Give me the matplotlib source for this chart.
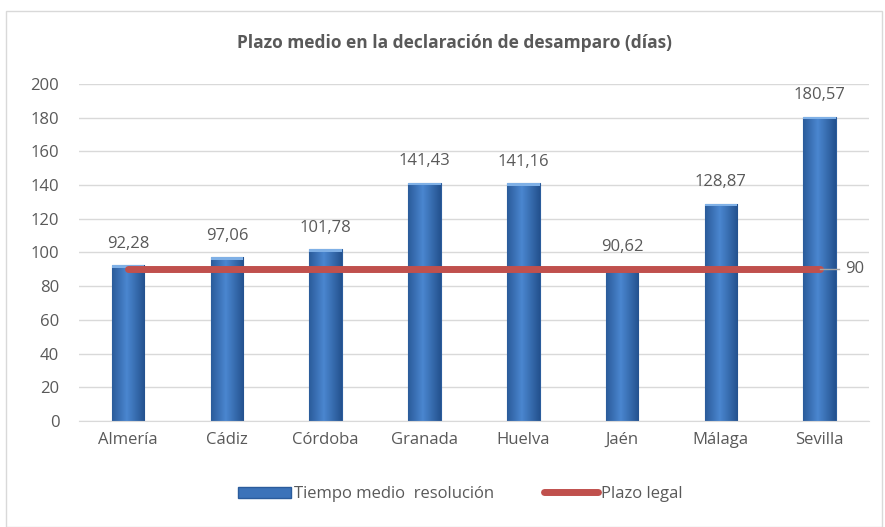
import numpy as np
import matplotlib.pyplot as plt
from matplotlib.patches import Rectangle
from matplotlib.lines import Line2D
from matplotlib.colors import LinearSegmentedColormap

# datos
provincias = ["Almería", "Cádiz", "Córdoba", "Granada", "Huelva", "Jaén", "Málaga", "Sevilla"]
tiempo_medio = [92.28, 97.06, 101.78, 141.43, 141.16, 90.62, 128.87, 180.57]
plazo_legal = [90, 90, 90, 90, 90, 90, 90, 90]

plt.rcParams['font.family'] = ['Open Sans', 'DejaVu Sans']
gris = "#595959"

fig = plt.figure(figsize=(8.85, 5.27), dpi=100)
ax = fig.add_axes([0.089, 0.201, 0.893, 0.640])

x = np.arange(len(provincias))
bars = ax.bar(x, tiempo_medio, width=0.33, color="#3C73B9", edgecolor="#2B5C9C",
              linewidth=0.8, zorder=2)

# degradado en las barras
grad = np.linspace(0, 1, 64)
grad = 1 - np.abs(grad - 0.45) * 1.6
grad = np.tile(grad, (2, 1))
cmap = LinearSegmentedColormap.from_list("azul", ["#24528F", "#4A86CF"])
for b in bars:
    x0, w, h = b.get_x(), b.get_width(), b.get_height()
    im = ax.imshow(grad, extent=[x0, x0 + w, 0, h], aspect="auto", cmap=cmap,
                   zorder=2.1, origin="lower")
    im.set_clip_path(b)
    ax.add_patch(Rectangle((x0, h - 1.5), w, 1.5, color="#7FB0E6", zorder=2.2, lw=0))

for xi, v in zip(x, tiempo_medio):
    ax.text(xi, v + 8, f"{v:.2f}".replace(".", ","), ha="center", va="bottom",
            fontsize=12, color=gris)

# linea plazo legal
ax.plot(x, plazo_legal, color="#C0504D", linewidth=5, solid_capstyle="round", zorder=3)
ax.plot([x[-1], x[-1] + 0.2], [90, 90], color="#A6A6A6", linewidth=1, zorder=3)
ax.text(x[-1] + 0.26, 90, "90", ha="left", va="center", fontsize=12, color=gris)

ax.set_ylim(0, 200)
ax.set_yticks(range(0, 201, 20))
ax.set_xlim(-0.5, len(provincias) - 0.5)
ax.set_xticks(x)
ax.set_xticklabels(provincias)
ax.tick_params(axis="both", length=0, labelsize=12, labelcolor=gris, pad=8)
ax.tick_params(axis="y", pad=14)
ax.grid(axis="y", color="#D9D9D9", linewidth=1, zorder=0)
ax.set_axisbelow(True)
for s in ["top", "right", "left"]:
    ax.spines[s].set_visible(False)
ax.spines["bottom"].set_color("#D9D9D9")

fig.text(0.513, 0.918, "Plazo medio en la declaración de desamparo (días)", ha="center",
         va="center", fontsize=12.5, fontweight="bold", color=gris)

handles = [Rectangle((0, 0), 1, 1, facecolor="#3C73B9", edgecolor="#2B5C9C"),
           Line2D([0], [0], color="#C0504D", linewidth=5, solid_capstyle="round")]
fig.legend(handles, ["Tiempo medio  resolución", "Plazo legal"], loc="center",
           bbox_to_anchor=(0.52, 0.062), ncol=2, frameon=False, fontsize=12,
           labelcolor=gris, handlelength=3.2, handletextpad=0.2, columnspacing=3.0)

# marco
fig.patches.append(Rectangle((0.007, 0.0), 0.99, 0.98, transform=fig.transFigure,
                             fill=False, edgecolor="#D9D9D9", linewidth=1))

plt.savefig("out.png", dpi=100)
